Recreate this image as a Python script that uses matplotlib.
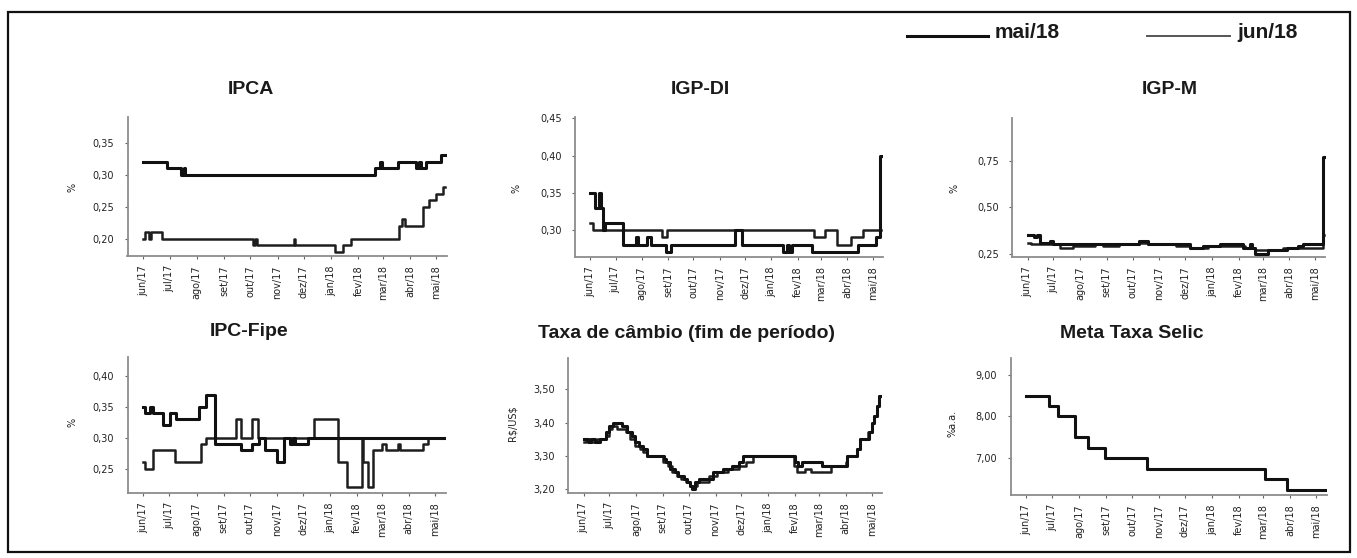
import matplotlib
matplotlib.use("Agg")
import matplotlib.pyplot as plt
from matplotlib.lines import Line2D
from matplotlib.patches import Rectangle
import numpy as np

plt.rcParams['font.family'] = ['DejaVu Sans']

# ---------------- data ----------------
month_ticks = ["2017-06-01", "2017-07-01", "2017-08-01", "2017-09-01", "2017-10-01", "2017-11-01",
               "2017-12-01", "2018-01-01", "2018-02-01", "2018-03-01", "2018-04-01", "2018-05-01"]
month_labels = ["jun/17", "jul/17", "ago/17", "set/17", "out/17", "nov/17",
                "dez/17", "jan/18", "fev/18", "mar/18", "abr/18", "mai/18"]
series_labels = ["mai/18", "jun/18"]

# IPCA
ipca_mai_dates = ["2017-06-01", "2017-06-28", "2017-07-14", "2017-07-17", "2017-07-19", "2018-02-20",
                  "2018-02-26", "2018-02-28", "2018-03-18", "2018-04-08", "2018-04-11", "2018-04-13",
                  "2018-04-19", "2018-05-06", "2018-05-11"]
ipca_mai_vals = [0.32, 0.31, 0.30, 0.31, 0.30, 0.31, 0.32, 0.31, 0.32, 0.31, 0.32, 0.31, 0.32, 0.33, 0.33]
ipca_jun_dates = ["2017-06-01", "2017-06-03", "2017-06-08", "2017-06-10", "2017-06-22", "2017-10-04",
                  "2017-10-06", "2017-10-08", "2017-11-20", "2017-11-21", "2018-01-05", "2018-01-15",
                  "2018-01-24", "2018-03-19", "2018-03-23", "2018-03-26", "2018-04-16", "2018-04-23",
                  "2018-05-01", "2018-05-08", "2018-05-11"]
ipca_jun_vals = [0.20, 0.21, 0.20, 0.21, 0.20, 0.19, 0.20, 0.19, 0.20, 0.19, 0.18, 0.19,
                 0.20, 0.22, 0.23, 0.22, 0.25, 0.26, 0.27, 0.28, 0.28]

# IGP-DI
igpdi_mai_dates = ["2017-06-01", "2017-06-07", "2017-06-11", "2017-06-14", "2017-06-16", "2017-06-19",
                   "2017-07-10", "2017-07-25", "2017-07-28", "2017-08-07", "2017-08-12", "2017-08-29",
                   "2017-09-05", "2017-11-19", "2017-11-27", "2018-01-15", "2018-01-20", "2018-01-22",
                   "2018-01-25", "2018-02-18", "2018-04-14", "2018-05-05", "2018-05-09", "2018-05-10",
                   "2018-05-11"]
igpdi_mai_vals = [0.35, 0.33, 0.35, 0.33, 0.30, 0.31, 0.28, 0.29, 0.28, 0.29, 0.28, 0.27,
                  0.28, 0.30, 0.28, 0.27, 0.28, 0.27, 0.28, 0.27, 0.28, 0.29, 0.30, 0.40, 0.40]
igpdi_jun_dates = ["2017-06-01", "2017-06-04", "2017-08-25", "2017-08-31", "2018-02-20", "2018-03-06",
                   "2018-03-20", "2018-04-05", "2018-04-19", "2018-05-11"]
igpdi_jun_vals = [0.31, 0.30, 0.29, 0.30, 0.29, 0.30, 0.28, 0.29, 0.30, 0.30]

# IGP-M
igpm_mai_dates = ["2017-06-01", "2017-06-08", "2017-06-12", "2017-06-15", "2017-06-27", "2017-07-01",
                  "2017-10-09", "2017-10-19", "2017-12-07", "2017-12-22", "2018-01-10", "2018-02-06",
                  "2018-02-14", "2018-02-17", "2018-02-20", "2018-03-07", "2018-03-29", "2018-04-11",
                  "2018-04-17", "2018-05-10", "2018-05-11"]
igpm_mai_vals = [0.35, 0.34, 0.35, 0.31, 0.32, 0.30, 0.32, 0.30, 0.28, 0.29, 0.30, 0.28,
                 0.30, 0.28, 0.25, 0.27, 0.28, 0.29, 0.30, 0.77, 0.77]
igpm_jun_dates = ["2017-06-01", "2017-06-05", "2017-07-09", "2017-07-24", "2017-08-18", "2017-08-28",
                  "2017-09-15", "2017-10-09", "2017-10-19", "2017-11-20", "2017-12-07", "2017-12-27",
                  "2018-02-08", "2018-02-20", "2018-03-25", "2018-05-10", "2018-05-11"]
igpm_jun_vals = [0.31, 0.30, 0.28, 0.29, 0.30, 0.29, 0.30, 0.31, 0.30, 0.29, 0.28, 0.29,
                 0.28, 0.27, 0.28, 0.35, 0.35]

# IPC-Fipe
fipe_mai_dates = ["2017-06-01", "2017-06-03", "2017-06-09", "2017-06-12", "2017-06-24", "2017-07-02",
                  "2017-07-08", "2017-08-04", "2017-08-12", "2017-08-22", "2017-09-21", "2017-10-03",
                  "2017-10-12", "2017-10-18", "2017-11-01", "2017-11-09", "2017-11-16", "2017-11-19",
                  "2017-11-22", "2017-12-07", "2018-05-11"]
fipe_mai_vals = [0.35, 0.34, 0.35, 0.34, 0.32, 0.34, 0.33, 0.35, 0.37, 0.29, 0.28, 0.29,
                 0.30, 0.28, 0.26, 0.30, 0.29, 0.30, 0.29, 0.30, 0.30]
fipe_jun_dates = ["2017-06-01", "2017-06-03", "2017-06-12", "2017-07-07", "2017-08-06", "2017-08-12",
                  "2017-09-15", "2017-09-21", "2017-10-03", "2017-10-10", "2017-12-14", "2018-01-10",
                  "2018-01-20", "2018-02-06", "2018-02-08", "2018-02-13", "2018-02-19", "2018-03-01",
                  "2018-03-06", "2018-03-20", "2018-03-22", "2018-04-17", "2018-04-23", "2018-05-11"]
fipe_jun_vals = [0.26, 0.25, 0.28, 0.26, 0.29, 0.30, 0.33, 0.30, 0.33, 0.30, 0.33, 0.26,
                 0.22, 0.30, 0.26, 0.22, 0.28, 0.29, 0.28, 0.29, 0.28, 0.29, 0.30, 0.30]

# Taxa de câmbio
cambio_mai_dates = ["2017-06-01", "2017-06-06", "2017-06-10", "2017-06-14", "2017-06-20", "2017-06-27",
                    "2017-06-30", "2017-07-05", "2017-07-16", "2017-07-21", "2017-07-27", "2017-07-31",
                    "2017-08-04", "2017-08-09", "2017-08-14", "2017-09-02", "2017-09-05", "2017-09-09",
                    "2017-09-15", "2017-09-19", "2017-09-25", "2017-09-29", "2017-10-02", "2017-10-05",
                    "2017-10-08", "2017-10-13", "2017-10-29", "2017-11-10", "2017-11-20", "2017-11-28",
                    "2017-12-03", "2018-02-01", "2018-02-05", "2018-02-09", "2018-03-04", "2018-04-03",
                    "2018-04-14", "2018-04-17", "2018-04-28", "2018-05-01", "2018-05-04", "2018-05-07",
                    "2018-05-09", "2018-05-11"]
cambio_mai_vals = [3.35, 3.34, 3.35, 3.34, 3.35, 3.37, 3.39, 3.40, 3.39, 3.37, 3.36, 3.34,
                   3.33, 3.32, 3.30, 3.29, 3.28, 3.26, 3.25, 3.24, 3.23, 3.22, 3.21, 3.20,
                   3.22, 3.23, 3.25, 3.26, 3.27, 3.28, 3.30, 3.28, 3.27, 3.28, 3.27, 3.30,
                   3.32, 3.35, 3.37, 3.40, 3.42, 3.45, 3.48, 3.48]
cambio_jun_dates = ["2017-06-01", "2017-06-04", "2017-06-08", "2017-06-17", "2017-06-27", "2017-06-30",
                    "2017-07-04", "2017-07-10", "2017-07-20", "2017-07-25", "2017-07-31", "2017-08-05",
                    "2017-08-09", "2017-08-14", "2017-09-01", "2017-09-07", "2017-09-11", "2017-09-17",
                    "2017-09-22", "2017-09-28", "2017-10-03", "2017-10-10", "2017-10-24", "2017-11-03",
                    "2017-11-16", "2017-11-28", "2017-12-06", "2017-12-14", "2018-01-31", "2018-02-03",
                    "2018-02-13", "2018-02-20", "2018-03-15", "2018-04-01", "2018-04-03", "2018-04-14",
                    "2018-04-17", "2018-04-27", "2018-05-01", "2018-05-04", "2018-05-07", "2018-05-09",
                    "2018-05-11"]
cambio_jun_vals = [3.34, 3.35, 3.34, 3.35, 3.36, 3.38, 3.39, 3.38, 3.37, 3.35, 3.33, 3.32,
                   3.31, 3.30, 3.28, 3.27, 3.25, 3.24, 3.23, 3.22, 3.21, 3.22, 3.24, 3.25,
                   3.26, 3.27, 3.28, 3.30, 3.27, 3.25, 3.26, 3.25, 3.27, 3.28, 3.30, 3.32,
                   3.35, 3.37, 3.40, 3.42, 3.45, 3.48, 3.48]

# Meta Taxa Selic
selic_mai_dates = ["2017-06-01", "2017-06-27", "2017-07-08", "2017-07-27", "2017-08-11", "2017-08-31",
                   "2017-10-18", "2018-03-03", "2018-03-29", "2018-05-11"]
selic_mai_vals = [8.50, 8.25, 8.00, 7.50, 7.25, 7.00, 6.75, 6.50, 6.25, 6.25]
selic_jun_dates = ["2017-06-01", "2017-06-27", "2017-07-08", "2017-07-27", "2017-08-11", "2017-08-31",
                   "2017-10-18", "2018-03-03", "2018-03-29", "2018-05-11"]
selic_jun_vals = [8.50, 8.25, 8.00, 7.50, 7.25, 7.00, 6.75, 6.50, 6.25, 6.25]

# ---------------- figure ----------------
W, H = 1357, 558
fig = plt.figure(figsize=(W / 100, H / 100), dpi=100)
fig.patch.set_facecolor('white')

def px_rect(left, top, right, bottom):
    return [left / W, 1 - bottom / H, (right - left) / W, (bottom - top) / H]

xlim = (np.datetime64("2017-05-14"), np.datetime64("2018-05-13"))
tick_dates = np.array(month_ticks, dtype="datetime64[D]")

MAI_KW = dict(color="#111111", lw=2.2, drawstyle="steps-post", zorder=3)
JUN_KW = dict(color="#1e1e1e", lw=1.8, drawstyle="steps-post", zorder=2)

panels = [
    dict(rect=px_rect(127.5, 117, 447, 256), title="IPCA", tpos=(251, 90),
         ylabel="%", ylpos=(73, 187), ylim=(0.173, 0.39),
         yticks=[0.20, 0.25, 0.30, 0.35], yticklabels=["0,20", "0,25", "0,30", "0,35"],
         mai=(ipca_mai_dates, ipca_mai_vals), jun=(ipca_jun_dates, ipca_jun_vals)),
    dict(rect=px_rect(575, 117, 883, 257), title="IGP-DI", tpos=(700, 90),
         ylabel="%", ylpos=(517, 188), ylim=(0.2636, 0.452),
         yticks=[0.30, 0.35, 0.40, 0.45], yticklabels=["0,30", "0,35", "0,40", "0,45"],
         mai=(igpdi_mai_dates, igpdi_mai_vals), jun=(igpdi_jun_dates, igpdi_jun_vals)),
    dict(rect=px_rect(1012, 118, 1325.5, 257), title="IGP-M", tpos=(1170, 90),
         ylabel="%", ylpos=(955, 188), ylim=(0.232, 0.98),
         yticks=[0.25, 0.50, 0.75], yticklabels=["0,25", "0,50", "0,75"],
         mai=(igpm_mai_dates, igpm_mai_vals), jun=(igpm_jun_dates, igpm_jun_vals)),
    dict(rect=px_rect(127.5, 357, 445.5, 493), title="IPC-Fipe", tpos=(249, 332),
         ylabel="%", ylpos=(73, 422), ylim=(0.2105, 0.431),
         yticks=[0.25, 0.30, 0.35, 0.40], yticklabels=["0,25", "0,30", "0,35", "0,40"],
         mai=(fipe_mai_dates, fipe_mai_vals), jun=(fipe_jun_dates, fipe_jun_vals)),
    dict(rect=px_rect(568, 358, 882, 493), title="Taxa de câmbio (fim de período)", tpos=(687, 334),
         ylabel="R\\$/US\\$", ylpos=(512, 423), ylim=(3.188, 3.594),
         yticks=[3.20, 3.30, 3.40, 3.50], yticklabels=["3,20", "3,30", "3,40", "3,50"],
         mai=(cambio_mai_dates, cambio_mai_vals), jun=(cambio_jun_dates, cambio_jun_vals)),
    dict(rect=px_rect(1010.5, 358, 1326.5, 495), title="Meta Taxa Selic", tpos=(1132, 334),
         ylabel="%a.a.", ylpos=(953, 423), ylim=(6.12, 9.4),
         yticks=[7.00, 8.00, 9.00], yticklabels=["7,00", "8,00", "9,00"],
         mai=(selic_mai_dates, selic_mai_vals), jun=(selic_jun_dates, selic_jun_vals)),
]

for p in panels:
    ax = fig.add_axes(p["rect"])
    jd, jv = p["jun"]
    md, mv = p["mai"]
    ax.plot(np.array(jd, dtype="datetime64[D]"), jv, label=series_labels[1], **JUN_KW)
    ax.plot(np.array(md, dtype="datetime64[D]"), mv, label=series_labels[0], **MAI_KW)
    ax.set_xlim(*xlim)
    ax.set_ylim(*p["ylim"])
    ax.set_xticks(tick_dates)
    ax.set_xticklabels(month_labels, rotation=90, fontsize=7, color="#222222")
    ax.set_yticks(p["yticks"])
    ax.set_yticklabels(p["yticklabels"], fontsize=7, color="#222222")
    for s in ("top", "right"):
        ax.spines[s].set_visible(False)
    for s in ("left", "bottom"):
        ax.spines[s].set_color("#8c8c8c")
        ax.spines[s].set_linewidth(1.3)
    ax.tick_params(axis="x", length=2.5, width=0.8, color="#666666", pad=4)
    ax.tick_params(axis="y", length=2.5, width=0.8, color="#666666", pad=7)
    ax.set_facecolor("white")
    fig.text(p["tpos"][0] / W, 1 - p["tpos"][1] / H, p["title"], ha="center", va="center",
             fontsize=14, fontweight="bold", family=["Liberation Sans", "DejaVu Sans"], color="#1a1a1a")
    fig.text(p["ylpos"][0] / W, 1 - p["ylpos"][1] / H, p["ylabel"], ha="center", va="center",
             rotation=90, fontsize=7, color="#222222")

# legend (drawn at top right like the original)
leg_y = 1 - 36 / H
fig.add_artist(Line2D([907 / W, 988 / W], [leg_y, leg_y], transform=fig.transFigure,
                      color="#111111", lw=2.2))
fig.text(995 / W, 1 - 33 / H, series_labels[0], ha="left", va="center", fontsize=15,
         fontweight="bold", family=["Liberation Sans", "DejaVu Sans"], color="#1a1a1a")
fig.add_artist(Line2D([1147 / W, 1230 / W], [leg_y, leg_y], transform=fig.transFigure,
                      color="#555555", lw=1.4))
fig.text(1237 / W, 1 - 33 / H, series_labels[1], ha="left", va="center", fontsize=15,
         fontweight="bold", family=["Liberation Sans", "DejaVu Sans"], color="#1a1a1a")

# outer frame
fig.add_artist(Rectangle((8 / W, 1 - 552 / H), (1350 - 8) / W, (552 - 12) / H,
                         transform=fig.transFigure, fill=False, edgecolor="#111111", lw=1.6))

fig.savefig("out.png", dpi=100)
